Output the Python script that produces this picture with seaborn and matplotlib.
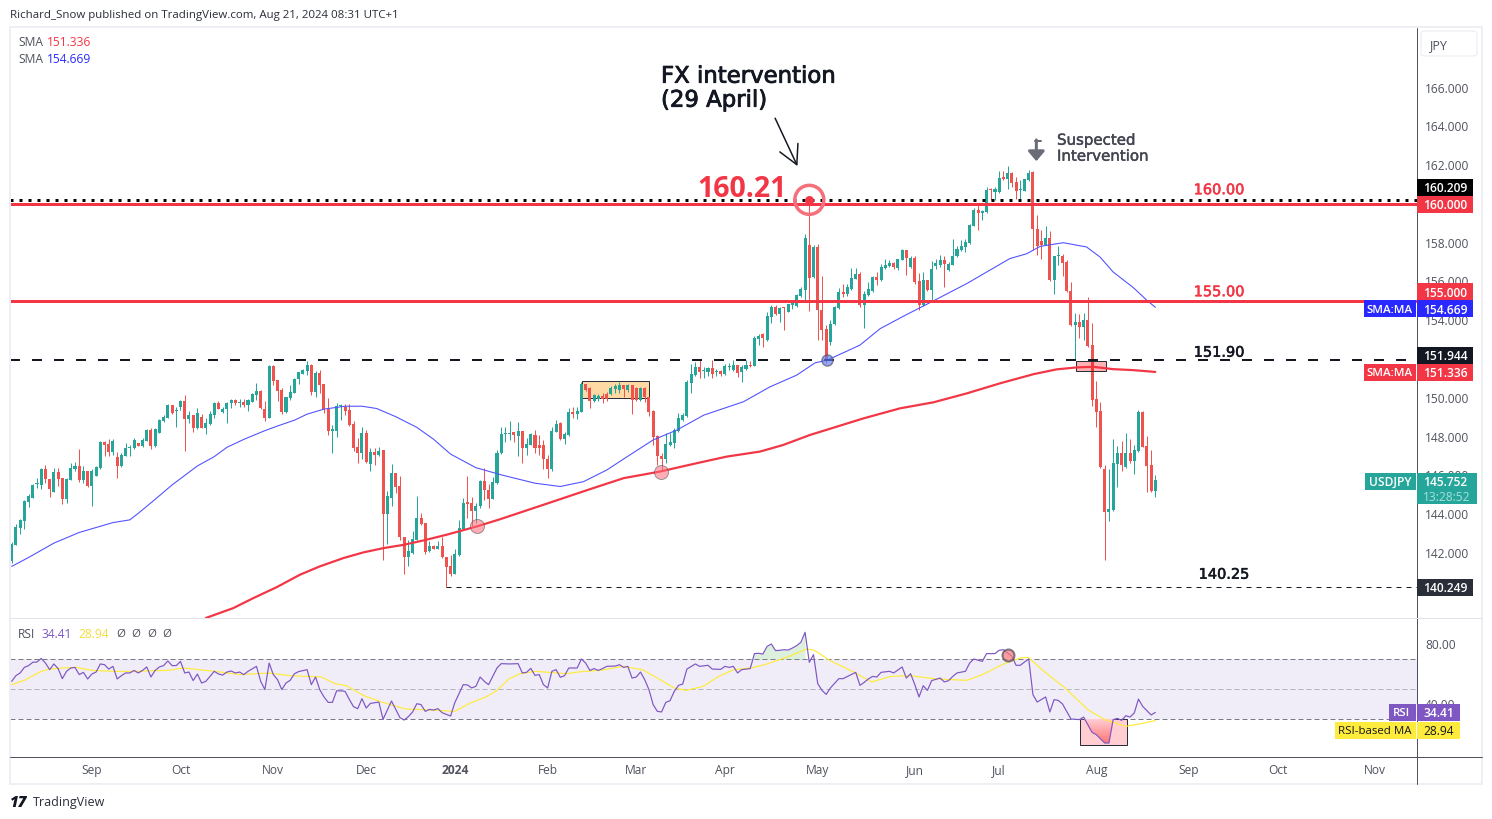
import numpy as np
import pandas as pd
import matplotlib
matplotlib.use("Agg")
import matplotlib.pyplot as plt
import matplotlib.patheffects as pe
from matplotlib.colors import LinearSegmentedColormap
from matplotlib.patches import Rectangle, FancyBboxPatch
import seaborn as sns

# =========================================================
# Data
# =========================================================

opens = [141.57,142.42,143.28,143.67,144.65,144.86,145.54,145.51,146.33,145.80,
145.17,146.16,145.85,144.79,145.77,146.32,146.49,145.77,146.23,145.48,
145.99,146.38,147.70,147.60,147.22,146.95,146.49,147.02,147.43,147.40,
147.65,147.52,147.79,148.34,147.52,148.20,148.80,148.97,149.63,149.30,
149.51,149.83,148.91,149.11,148.43,148.99,148.43,148.65,149.11,149.76,
149.28,149.42,149.75,149.88,149.74,149.78,149.63,149.81,150.14,150.35,
149.45,148.97,151.65,150.91,150.40,149.27,149.99,150.26,150.95,151.25,
151.38,151.68,150.31,151.27,150.71,149.45,148.31,148.31,149.59,149.54,
149.37,148.65,147.45,147.17,148.17,146.59,147.21,147.07,147.31,144.03,
144.86,146.14,145.46,142.85,141.77,141.99,142.68,143.81,143.54,142.08,
142.37,142.23,142.37,141.79,141.33,140.93,141.91,143.23,144.58,144.57,
144.17,144.40,145.72,145.25,144.81,145.60,
147.14,148.12,148.12,148.24,148.05,148.29,147.43,147.57,148.07,147.57,
147.57,146.85,146.34,148.26,148.69,147.88,148.09,149.25,149.15,149.29,
150.74,150.52,149.85,149.92,150.09,150.20,150.18,150.44,150.40,150.64,
150.40,150.64,150.52,149.89,150.52,150.02,149.34,148.05,147.00,146.83,
147.57,147.69,148.29,148.86,149.06,150.78,151.17,151.60,151.36,151.33,
151.52,151.31,151.36,151.21,151.60,151.46,151.69,151.31,151.50,151.72,
151.65,153.06,153.28,152.97,154.17,154.69,154.33,154.64,154.45,154.81,
154.72,155.24,155.55,157.86,156.23,157.78,154.55,153.54,152.89,153.80,
154.64,155.44,155.34,155.61,156.13,156.37,154.77,155.29,155.51,156.23,
156.06,156.70,156.78,156.95,156.71,157.12,157.60,156.75,157.23,156.01,
154.77,156.06,155.55,156.78,156.87,157.12,
156.61,156.87,157.30,157.60,157.76,157.98,158.86,159.71,159.53,159.58,
160.76,160.62,160.61,161.34,161.31,161.60,161.14,160.71,160.69,161.21,
161.62,158.72,158.07,157.88,158.26,156.06,157.31,157.33,156.99,155.53,
153.76,153.90,153.63,154.00,152.70,149.94,149.32,146.34,144.09,144.23,
146.59,147.14,146.41,147.18,146.75,147.26,149.27,147.52,146.54,145.22]

closes = [142.47,143.33,143.71,144.69,144.94,145.51,145.56,146.33,145.80,145.32,
146.16,145.84,144.79,145.82,146.37,146.49,145.77,146.23,145.46,146.23,
146.44,147.72,147.58,147.22,147.77,146.50,147.04,147.43,147.45,147.82,
147.53,147.82,148.34,147.50,148.37,148.85,148.99,149.63,149.20,149.33,
149.83,148.91,149.11,148.46,149.21,148.46,148.68,149.15,149.76,149.45,
149.45,149.76,149.88,149.71,149.76,149.63,149.88,150.19,150.35,149.49,
148.94,151.65,150.88,150.36,149.25,150.02,150.29,150.96,151.31,151.43,
151.68,150.31,151.29,150.67,149.42,148.31,148.34,149.57,149.61,149.32,
148.60,147.40,147.17,148.17,146.69,147.19,147.07,147.26,144.03,144.94,
146.11,145.42,142.85,141.77,142.11,142.71,143.79,143.50,142.06,142.37,
142.23,142.37,141.77,141.29,140.93,141.96,143.28,144.57,144.55,144.17,
144.43,145.72,145.25,144.81,145.65,147.14,
148.12,148.14,148.14,148.07,148.27,147.40,147.62,148.14,147.43,147.42,
146.83,146.34,148.29,148.63,147.86,148.14,149.27,149.15,149.32,150.74,
150.40,149.85,150.14,150.11,149.92,149.92,150.52,150.61,150.64,150.47,
150.64,149.89,149.89,150.52,150.02,149.29,148.00,147.00,146.83,147.61,
147.74,148.34,148.94,149.11,150.83,151.22,151.60,151.34,151.40,151.53,
151.22,151.33,151.22,151.65,151.64,151.69,151.26,151.57,151.72,151.64,
153.11,153.21,153.11,154.23,154.69,154.31,154.64,154.62,154.83,154.83,
155.29,155.63,158.26,156.20,157.78,154.52,153.49,151.94,153.83,154.69,
155.44,155.34,155.72,156.18,156.37,154.77,155.34,155.63,156.23,156.06,
156.75,156.83,156.95,156.75,157.14,157.60,157.23,157.21,155.97,154.77,
156.06,155.55,156.66,156.95,157.09,156.92,
156.92,157.33,157.66,157.81,158.02,158.89,159.71,159.53,159.63,160.73,
160.73,160.79,161.34,161.31,161.60,161.10,160.69,160.73,161.26,161.58,
158.69,157.81,157.90,158.26,156.06,157.33,157.33,156.95,155.50,153.75,
153.90,153.64,154.00,152.67,149.89,149.29,146.41,144.09,144.28,146.63,
147.14,146.54,147.18,146.75,147.31,149.29,147.49,146.51,145.22,145.752]

highs = [142.59,143.50,143.76,144.74,145.03,145.56,145.85,146.40,146.54,145.80,
146.38,146.38,145.85,145.89,146.62,146.71,147.36,146.49,146.23,146.32,
146.47,147.77,147.77,147.86,147.88,147.22,147.14,147.69,147.57,147.91,
147.69,147.91,148.37,148.43,148.43,148.89,149.11,149.66,149.63,149.51,
149.88,150.14,149.32,149.11,149.49,149.16,148.94,149.32,149.80,149.83,
149.54,149.80,149.92,149.93,149.92,149.93,149.92,150.26,150.76,150.40,
149.83,151.68,151.68,150.91,150.52,150.05,150.65,151.03,151.34,151.51,
151.89,151.77,151.38,151.43,150.74,149.97,148.60,149.71,149.68,149.68,
149.68,148.80,147.91,148.48,148.34,147.40,147.40,147.45,147.31,145.22,
146.59,146.14,145.97,142.85,142.68,143.14,144.94,144.07,143.54,142.63,
142.42,142.63,142.85,141.79,141.91,142.20,143.71,144.82,145.97,144.91,
144.57,145.77,146.37,145.56,145.90,147.31,
148.51,148.51,148.81,148.26,148.74,148.29,147.91,148.21,148.34,148.07,
147.83,147.06,148.51,148.86,148.74,148.26,149.47,149.54,149.51,150.83,
150.74,150.57,150.20,150.20,150.23,150.32,150.62,150.74,150.83,150.66,
150.74,150.66,150.57,150.57,150.57,150.06,149.37,148.09,147.14,148.17,
148.17,148.43,149.20,149.23,150.92,151.77,151.86,151.94,151.57,151.60,
151.94,151.50,151.43,151.74,151.81,151.94,151.69,151.69,151.94,151.89,
153.18,153.28,153.32,154.43,154.77,154.77,154.69,154.69,154.86,154.89,
155.34,155.72,158.43,160.21,157.86,157.95,156.27,153.75,154.00,154.72,
155.68,155.89,155.85,156.71,156.71,156.49,155.51,155.97,156.27,156.49,
156.88,157.14,157.09,157.00,157.17,157.66,157.64,157.30,157.30,156.45,
156.49,156.06,157.05,157.17,157.35,157.30,
157.00,158.21,157.81,158.15,158.21,158.98,159.80,159.92,159.70,160.86,
160.81,160.86,161.69,161.69,161.93,161.64,161.38,161.21,161.29,161.76,
161.72,159.41,158.63,158.84,158.58,157.33,157.81,157.40,157.09,155.96,
154.35,154.30,154.35,155.20,153.87,150.87,149.78,146.54,146.32,147.86,
147.52,147.78,148.17,147.86,147.57,149.37,149.34,148.03,147.31,146.03]

lows = [141.51,142.39,142.99,143.25,144.39,144.82,145.34,145.30,145.63,144.91,
145.15,145.48,144.55,144.60,145.77,146.25,145.68,145.63,145.42,144.45,
145.99,146.35,147.02,147.02,147.05,145.89,146.45,147.02,147.02,147.35,
147.52,147.48,147.77,147.35,147.48,148.17,148.77,148.96,149.16,148.51,
149.37,147.28,148.72,148.25,148.41,148.43,148.15,148.60,148.97,149.42,
149.23,148.72,149.49,149.63,149.54,149.54,149.32,149.78,149.88,149.42,
148.80,148.94,150.65,149.85,149.16,149.23,149.88,150.23,150.74,151.22,
151.17,150.14,150.05,150.26,149.20,148.08,147.17,148.00,148.85,149.11,
148.55,147.26,146.66,146.83,146.66,146.25,146.54,147.00,141.62,142.47,
144.40,145.08,142.68,140.93,141.31,141.96,142.68,143.45,141.96,142.05,
142.20,142.20,141.74,140.24,140.79,140.93,141.87,143.19,143.79,143.37,
143.54,144.34,144.74,144.34,144.77,145.56,
147.11,147.74,147.83,147.74,147.00,146.66,147.06,147.55,147.14,147.06,
146.32,145.89,146.25,148.22,147.83,147.62,148.05,148.94,148.91,149.25,
150.35,149.49,149.80,149.85,149.72,149.85,150.14,150.26,150.23,150.02,
150.32,149.17,149.85,149.85,149.80,149.06,147.57,146.54,146.28,146.63,
147.52,147.40,148.26,148.82,149.03,150.23,151.12,151.00,151.05,151.12,
151.05,151.12,151.12,151.17,151.46,151.40,151.09,150.83,151.46,151.60,
151.62,152.72,152.60,152.92,153.87,154.26,153.92,153.52,154.41,154.60,
154.69,155.20,154.95,154.48,156.20,152.97,152.97,151.81,152.72,153.78,
154.60,155.20,155.24,155.55,156.11,154.69,153.61,155.25,155.46,155.80,
156.03,156.66,156.75,156.66,156.57,157.09,156.32,156.71,155.89,154.55,
154.74,155.51,155.07,156.66,156.75,155.72,
156.54,156.83,157.26,157.57,157.52,157.95,158.84,158.67,159.15,159.54,
160.18,160.18,160.57,161.21,160.78,160.86,160.23,160.18,160.66,161.17,
157.60,157.35,157.14,157.86,156.03,155.34,156.83,156.27,155.46,153.71,
151.95,153.09,152.97,152.63,149.58,148.52,146.37,141.66,143.63,144.19,
145.43,146.25,146.37,146.63,146.08,147.23,147.45,145.17,145.17,144.91]

sma50_bars = [0,4,10,16,24,28,30,34,38,44,48,51,55,60,63,67,70,74,79,83,86.5,91,96,100,104,
110,116,124,130,135.5,141,146.5,152,157.6,164,173.4,179.7,186,190.4,193.2,201,205.8,212.1,
217.6,226.3,236.5,240.5,243.7,249.2,254.7,257.9,261,265.8,269,271]
sma50_vals = [141.31,141.77,142.51,143.06,143.57,143.71,144.05,144.77,145.51,146.49,146.97,147.45,147.86,148.31,148.55,148.85,149.16,149.42,149.57,149.57,149.45,149.03,148.48,147.86,147.10,
146.40,146.03,145.60,145.43,145.68,146.28,147.06,147.83,148.34,149.11,149.80,150.57,151.17,151.81,151.94,152.72,153.57,154.30,
154.91,155.89,157.18,157.43,157.81,158.00,157.78,157.26,156.49,155.68,155.03,154.669]

sma200_bars = [46,52.5,57.3,62.8,68.3,73,78.6,83.3,88,92.8,97.6,103,110.2,115.7,127,137,145,153.6,162.3,169.4,177.3,182.8,189.2,
194.7,201.8,210.5,218.4,226.3,234.2,242.1,247.6,252.4,256.3,261,265.8,271]
sma200_vals = [138.65,139.16,139.68,140.24,140.88,141.31,141.74,142.03,142.25,142.42,142.65,142.94,143.37,143.74,144.56,145.29,145.86,146.20,146.63,146.97,147.23,147.57,148.09,
148.46,148.94,149.46,149.77,150.23,150.75,151.22,151.47,151.57,151.60,151.48,151.43,151.336]

rsi_bars = [0,1,2,3,4,5,6,7,8,9,10,11,12,13,14,15,16,17,18,19,20,21,22,23,24,25,26,27,28,29,30,31,32,33,34,35,36,37,38,39,
40,41,42,43,44,45,46,47,48,49,50,51,52,53,54,55,56,58,59,60,61,62,63,64,65,66,67,68,70,71,72,73,74,75,76,77,78,79,80,81,82,83,84,85,87,88,
90,91,92,93,94,95,96,97,98,99,100,101,102,104,105,107,108,109,110,111,112,113,114,115,116,118,120,121,122,123,124,125,126,127,128,129,130,131,132,134,135,136,137,138,139,
140,141,143,144,145,146,147,148,149,150,151,152,153,154,155,156,157,158,159,160,162,163,165,166,168,169,170,171,172,173,175,176,177,178,179,180,181,182,183,184,185,186,187,188,189,190,
191,192,193,194,196,197,200,201,202,203,204,205,206,208,209,211,212,213,214,215,216,217,218,220,221,222,223,224,226,227,228,230,231,233,234,235,237,238,239,240,241,
242,243,245,246,247,248,249,251,253,254,256,257,259,260,261,262,263,264,265,266,267,268,270,271]
rsi_vals = [55.1,58.9,60.7,64.4,65.6,67.8,68,70.4,67.3,62.9,66.7,63.6,56.9,61.8,64,64.4,59.6,61.1,56.7,60,61.3,66.7,66.2,63.3,65.1,56.7,58.9,60.7,60.7,62.4,60.7,62.4,64.7,58,62.4,64.7,65.6,68.7,65.6,65.6,
68.4,60.7,61.3,55.6,60,54,55.1,58.4,61.8,60,59.3,61.3,62,60.7,61.3,59.6,61.8,65.1,55.1,49.6,67.3,59.6,56.2,49.6,54,55.8,60.2,61.6,62.9,52.9,58,49.6,44.7,41.1,41.1,48.8,48.8,48.4,43.1,38.2,36.9,43.6,37.3,40.4,41.3,29.8,
42,36.4,30.9,29.3,31.6,34.7,40.2,39.6,35.1,36.4,36,36.9,34.2,32,40.9,52.9,52.7,50.7,51.8,58,55.1,52.9,58.4,64,66.9,66.7,66.9,60.7,61.1,63.8,59.1,59.6,52.9,50.7,61.8,62.9,57.8,58.9,64,64,70,67.3,62.4,63.6,62.4,
63.6,65.1,65.3,66.2,64.4,65.1,57.3,58,61.3,56.2,49.6,39.6,35.1,34.7,41.1,42.2,48.4,52.4,53.3,63.3,66.7,65.1,65.8,63.3,63.1,65.1,64.4,65.1,60.7,62.9,63.6,73.6,73.8,73.3,78.4,80,75.6,75.8,76.2,76,77.3,78.9,81.1,87.8,67.8,72.9,
53.6,49.1,46.4,50.7,56.9,56.9,61.1,52.4,54.4,56.7,58.4,58,61.1,61.8,60.7,64.7,57.3,60.2,52.9,44.7,52.2,49.1,55.6,57.3,54.7,55.6,58.4,60.7,61.8,67.3,70,68.4,73.6,73.6,75.8,76.2,71.8,65.8,65.8,68,70,
46.2,41.3,44.7,34.7,42.9,42.4,40,30,29.6,31.3,21.1,19.6,14,14,29.6,30.4,29.1,32.2,31.3,34,43.3,38.4,32.7,34.41]

rsi_ma_bars = [0,3,4.5,7,9,12,15.4,19,24.4,28,33.5,37,40.6,44.4,48,54.3,60.7,66,73.4,76.6,79.3,83.4,87.9,93.3,100.6,105,108.7,112.4,115,117.8,120.5,124.2,131.4,135,
139.4,144.8,149.4,153,157,159.8,163.9,167.5,171.1,175.2,178.4,183.8,188.4,190.2,193.8,199.2,203.8,208.3,212.8,219.2,226.4,230,235.5,239.1,240.9,244.6,249.6,255,259,264,267.2,271]
rsi_ma_vals = [52.9,55.8,58,61.8,63.3,64,64.4,62.4,61.8,61.6,62.2,62.4,64,62.9,61.8,59.6,60.7,58.9,58,53.6,52.2,45.6,41.1,36.7,35.8,35.1,40.7,44.7,49.1,56.7,60.2,61.8,60.2,61.6,
62.4,65.1,62.9,57.3,50.7,49.1,51.8,58.4,62.9,64,66.2,71.3,76.7,75.8,69.1,61.8,54.7,58.4,58.9,56.7,55.8,59.6,67.3,70.7,71.1,61.8,50.7,36.2,29.6,25.1,26.7,28.94]

month_labels = ["Sep","Oct","Nov","Dec","2024","Feb","Mar","Apr","May","Jun","Jul","Aug","Sep","Oct","Nov"]
month_bars = [19,40,62,84,105,127,148,169,191,214,234,257,279,300,323]
price_ticks = [142,144,146,148,150,154,156,158,162,164,166]
rsi_ticks = [80,40]

# =========================================================
# Setup
# =========================================================

sns.set_theme(style="white")
plt.rcParams["font.family"] = ["Open Sans", "DejaVu Sans"]

W, H = 1492, 819
PT = 0.72  # px -> pt at dpi 100

GREEN = "#26a69a"
RED = "#ef5350"
LINE_RED = "#f23645"
BLUE = "#5353ff"
PURPLE = "#7e57c2"
YELLOW = "#ffeb3b"
GREY = "#50535e"

fig = plt.figure(figsize=(W / 100, H / 100), dpi=100, facecolor="white")
ax = fig.add_axes([10 / W, 1 - 618 / H, 1407 / W, 590 / H])
ax_rsi = fig.add_axes([10 / W, 1 - 757 / H, 1407 / W, 138 / H])

XLIM = (-0.4, 333)
ax.set_xlim(*XLIM)
ax.set_ylim(138.65, 169.07)
ax_rsi.set_xlim(*XLIM)
ax_rsi.set_ylim(4.67, 96.67)


def txt(x, y, s, size=12, color="#131722", ha="left", va="center", **kw):
    return fig.text(x / W, 1 - (y + 1.2) / H, s, fontsize=size * PT, color=color, ha=ha, va=va, **kw)


def heavy(s, width=0.5):
    # thicken regular DejaVu a little, the original drawing text is heavier
    s.set_path_effects([pe.withStroke(linewidth=width, foreground=s.get_color())])


def box(x0, y0, x1, y1, color, zorder=5, **kw):
    fig.add_artist(Rectangle((x0 / W, 1 - y1 / H), (x1 - x0) / W, (y1 - y0) / H,
                             transform=fig.transFigure, facecolor=color, edgecolor="none",
                             zorder=zorder, **kw))


# =========================================================
# Candles
# =========================================================

df = pd.DataFrame({"open": opens, "high": highs, "low": lows, "close": closes})
df["bar"] = np.arange(len(df))
df["up"] = df["close"] >= df["open"]
colors = df["up"].map({True: GREEN, False: RED})

# zones go under the candles
ax.add_patch(Rectangle((135.1, 150.0), 16, 0.85, facecolor="#ffd9a3", edgecolor="#2a2e39", lw=1 * PT, zorder=1))

ax.vlines(df["bar"], df["low"], df["high"], colors=colors, lw=1 * PT, zorder=2)
ax.bar(df["bar"], np.maximum((df["close"] - df["open"]).abs(), 0.06),
       bottom=df[["open", "close"]].min(axis=1), width=0.72, color=colors, linewidth=0, zorder=3)

ax.add_patch(Rectangle((252.1, 151.4), 7.1, 0.48, facecolor="#ff0000", alpha=0.3, edgecolor="none", zorder=4))
ax.add_patch(Rectangle((252.1, 151.4), 7.1, 0.48, fill=False, edgecolor="#2a2e39", lw=1 * PT, zorder=4))

# =========================================================
# SMA lines and levels
# =========================================================

sns.lineplot(x=sma50_bars, y=sma50_vals, ax=ax, color=BLUE, lw=1.1 * PT, zorder=4)
sns.lineplot(x=sma200_bars, y=sma200_vals, ax=ax, color=LINE_RED, lw=2.2 * PT, zorder=4)

ax.axhline(160.209, color="black", lw=3 * PT, ls=(0, (1, 2)), zorder=5)
ax.axhline(160.0, color=LINE_RED, lw=3 * PT, zorder=5)
ax.axhline(155.0, color=LINE_RED, lw=3 * PT, zorder=5)
ax.axhline(151.944, color="#131722", lw=2 * PT, ls=(0, (5, 6)), zorder=5)
ax.plot([103, XLIM[1]], [140.249, 140.249], color="#131722", lw=1 * PT, ls=(0, (5, 5)), zorder=5)

# touch markers
sns.scatterplot(x=[110.2, 153.9], y=[143.4, 146.2], ax=ax, s=(14 * PT) ** 2, color="#ff6b78", alpha=0.55,
                edgecolor="#50535e", linewidth=1 * PT, zorder=6, legend=False)
sns.scatterplot(x=[193.2], y=[151.94], ax=ax, s=(11 * PT) ** 2, color="#5c7cfa", alpha=0.65,
                edgecolor="#50535e", linewidth=1.5 * PT, zorder=6, legend=False)
ax.scatter([189], [160.21], s=(29 * PT) ** 2, facecolor="none", edgecolor="#f6707c", linewidth=3.5 * PT, zorder=7)
ax.scatter([189], [160.21], s=(9 * PT) ** 2, color=LINE_RED, linewidth=0, zorder=7)

ax.annotate("", xy=(186.2, 161.95), xytext=(180.9, 164.42),
            arrowprops=dict(arrowstyle="->,head_length=0.75,head_width=0.4", color="#131722", lw=1.5 * PT,
                            shrinkA=0, shrinkB=0, mutation_scale=18))
ax.annotate("", xy=(242.8, 162.2), xytext=(242.8, 163.3),
            arrowprops=dict(arrowstyle="-|>,head_length=0.45,head_width=0.38", color="#6a6d78", lw=3 * PT,
                            shrinkA=0, shrinkB=0, mutation_scale=13))
ax.plot([242.5, 244], [163.25, 163.25], color="#6a6d78", lw=2 * PT, zorder=5)

# =========================================================
# RSI pane
# =========================================================

rsi_bars_arr = np.array(rsi_bars, dtype=float)
rsi_vals_arr = np.array(rsi_vals, dtype=float)

ax_rsi.axhspan(30, 70, color=PURPLE, alpha=0.1, lw=0, zorder=1)
ax_rsi.axhline(70, color="#787b86", lw=1 * PT, ls=(0, (5, 3)), zorder=2)
ax_rsi.axhline(50, color="#b2b5be", lw=1 * PT, ls=(0, (5, 3)), zorder=2)
ax_rsi.axhline(30, color="#787b86", lw=1 * PT, ls=(0, (5, 3)), zorder=2)

ax_rsi.add_patch(Rectangle((253.2, 12.67), 11, 17.33, facecolor="#ffcdd2", edgecolor="#2a2e39", lw=1 * PT, zorder=2))

# oversold part fades from the 30 line down to the low, clipped under the RSI line
mask_low = (rsi_bars_arr >= 253) & (rsi_bars_arr <= 262)
low_poly = ax_rsi.fill_between(rsi_bars_arr[mask_low], np.minimum(rsi_vals_arr[mask_low], 30), 30,
                               facecolor="none", lw=0)
fade = LinearSegmentedColormap.from_list("fade", ["#ffcdd2", "#ff6f6f"])
im = ax_rsi.imshow(np.linspace(0, 1, 64).reshape(-1, 1), extent=(253, 262, 12.67, 30), origin="upper",
                   cmap=fade, aspect="auto", zorder=3)
im.set_clip_path(low_poly.get_paths()[0], transform=ax_rsi.transData)
ax_rsi.set_xlim(*XLIM)
ax_rsi.set_ylim(4.67, 96.67)

mask_high = (rsi_bars_arr >= 175) & (rsi_bars_arr <= 188)
ax_rsi.fill_between(rsi_bars_arr[mask_high], rsi_vals_arr[mask_high], 70, where=rsi_vals_arr[mask_high] > 70,
                    interpolate=True, color="#66bb6a", alpha=0.22, lw=0, zorder=3)

sns.lineplot(x=rsi_ma_bars, y=rsi_ma_vals, ax=ax_rsi, color=YELLOW, lw=1.2 * PT, zorder=4)
sns.lineplot(x=rsi_bars, y=rsi_vals, ax=ax_rsi, color=PURPLE, lw=1.2 * PT, zorder=5)
ax_rsi.scatter([236.1], [72.4], s=(12 * PT) ** 2, color="#f77c80", alpha=0.75, edgecolor="#50535e",
               linewidth=2 * PT, zorder=6)

# =========================================================
# Axes
# =========================================================

for a in (ax, ax_rsi):
    for side in a.spines:
        a.spines[side].set_visible(False)
    a.grid(False)
    a.set_xlabel("")
    a.set_ylabel("")
    a.yaxis.tick_right()
    a.tick_params(axis="y", length=0, pad=5.8, labelsize=12 * PT, labelcolor=GREY)
    a.set_xticks([])

ax.set_yticks(price_ticks)
ax.set_yticklabels([f"{t:.3f}" for t in price_ticks])
ax_rsi.set_yticks(rsi_ticks)
ax_rsi.set_yticklabels([f"{t:.2f}" for t in rsi_ticks])

ax_rsi.set_xticks(month_bars)
ax_rsi.set_xticklabels(month_labels)
ax_rsi.tick_params(axis="x", length=0, pad=5, labelsize=12 * PT, labelcolor=GREY, bottom=True)
for lab in ax_rsi.get_xticklabels():
    if lab.get_text() == "2024":
        lab.set_fontweight("bold")

# frame
fig.add_artist(Rectangle((10 / W, 1 - 784 / H), 1472 / W, 757 / H, transform=fig.transFigure, fill=False,
                         edgecolor="#eeeef4", lw=2 * PT, zorder=1))
fig.add_artist(plt.Line2D([1417 / W, 1417 / W], [1 - 784 / H, 1 - 28 / H], color=GREY, lw=1 * PT, zorder=4))
fig.add_artist(plt.Line2D([10 / W, 1482 / W], [1 - 757 / H, 1 - 757 / H], color=GREY, lw=1 * PT, zorder=4))
fig.add_artist(plt.Line2D([10 / W, 1482 / W], [1 - 618 / H, 1 - 618 / H], color="#e0e3eb", lw=1 * PT, zorder=4))

fig.add_artist(FancyBboxPatch((1421 / W, 1 - 56 / H), 56 / W, 25 / H, transform=fig.transFigure,
                              boxstyle="round,pad=0,rounding_size=0.003", facecolor="white",
                              edgecolor="#e8eaf0", lw=1 * PT, zorder=4))
txt(1429, 44, "JPY", 12.5, GREY, zorder=6)

# =========================================================
# Price tags
# =========================================================

tags = [(187.5, "160.209", "#000000"), (204.5, "160.000", LINE_RED), (292, "155.000", LINE_RED),
        (309, "154.669", "#2929ff"), (355.5, "151.944", "#131722"), (372.5, "151.336", LINE_RED),
        (587.5, "140.249", "#2a2e39")]
for yc, label, col in tags:
    box(1417, yc - 8.5, 1473, yc + 8.5, col)
    txt(1445, yc, label, 12, "white", ha="center", zorder=6, fontweight="semibold")

for yc, col in [(309, "#2929ff"), (372.5, LINE_RED)]:
    box(1364, yc - 8.5, 1415.5, yc + 8.5, col)
    txt(1390, yc, "SMA:MA", 11.5, "white", ha="center", zorder=6, fontweight="semibold")

box(1365, 473, 1415.5, 490, GREEN)
txt(1390, 481.5, "USDJPY", 12, "white", ha="center", zorder=6, fontweight="semibold")
box(1417, 473, 1477, 504, GREEN)
txt(1445, 481.5, "145.752", 12, "white", ha="center", zorder=6, fontweight="semibold")
txt(1447, 496, "13:28:52", 12, "#a8e0da", ha="center", zorder=6)

box(1389, 704, 1415.5, 721, PURPLE)
txt(1402, 712.5, "RSI", 11.5, "white", ha="center", zorder=6, fontweight="semibold")
box(1417, 704, 1460, 721, PURPLE)
txt(1439, 712.5, "34.41", 12, "white", ha="center", zorder=6, fontweight="semibold")
box(1335, 721.5, 1415.5, 738.5, YELLOW)
txt(1375, 730, "RSI-based MA", 11.5, "#131722", ha="center", zorder=6)
box(1417, 721.5, 1460, 738.5, YELLOW)
txt(1439, 730, "28.94", 12, "#131722", ha="center", zorder=6)

# =========================================================
# Texts
# =========================================================

txt(10, 14.5, "Richard_Snow published on TradingView.com, Aug 21, 2024 08:31 UTC+1", 11.5, "#2a2e39")
txt(18, 41.5, "SMA", 12, GREY)
txt(47, 41.5, "151.336", 12, LINE_RED)
txt(18, 58.5, "SMA", 12, GREY)
txt(47, 58.5, "154.669", 12, "#2929ff")

txt(18, 633.5, "RSI", 12, GREY)
txt(41, 633.5, "34.41", 12, PURPLE)
txt(78, 633.5, "28.94", 12, "#f5dc3c")
txt(116, 633.5, "\u00d8", 11.5, GREY)
txt(131, 633.5, "\u00d8", 11.5, GREY)
txt(147, 633.5, "\u00d8", 11.5, GREY)
txt(162, 633.5, "\u00d8", 11.5, GREY)

for yy, s in [(75, "FX intervention"), (99, "(29 April)")]:
    heavy(txt(661, yy, s, 22.8, "#131722", family="DejaVu Sans"), 0.6)
txt(697, 188, "160.21", 28.5, LINE_RED, fontweight="bold")
heavy(txt(1057, 139, "Suspected", 15, "#434651", family="DejaVu Sans"), 0.3)
heavy(txt(1057, 155, "Intervention", 15, "#434651", family="DejaVu Sans"), 0.3)

for xx, yy, s, col in [(1219, 188.5, "160.00", LINE_RED), (1219, 290.5, "155.00", LINE_RED),
                       (1219, 351, "151.90", "#131722"), (1224, 573, "140.25", "#131722")]:
    heavy(txt(xx, yy, s, 14.5, col, ha="center", family="DejaVu Sans"), 0.4)

txt(10, 801.5, "17", 15, "#131722", fontweight="black", fontstyle="italic")
txt(33, 801.5, "TradingView", 12.5, "#2a2e39")

fig.savefig("out.png", dpi=100, facecolor="white")
